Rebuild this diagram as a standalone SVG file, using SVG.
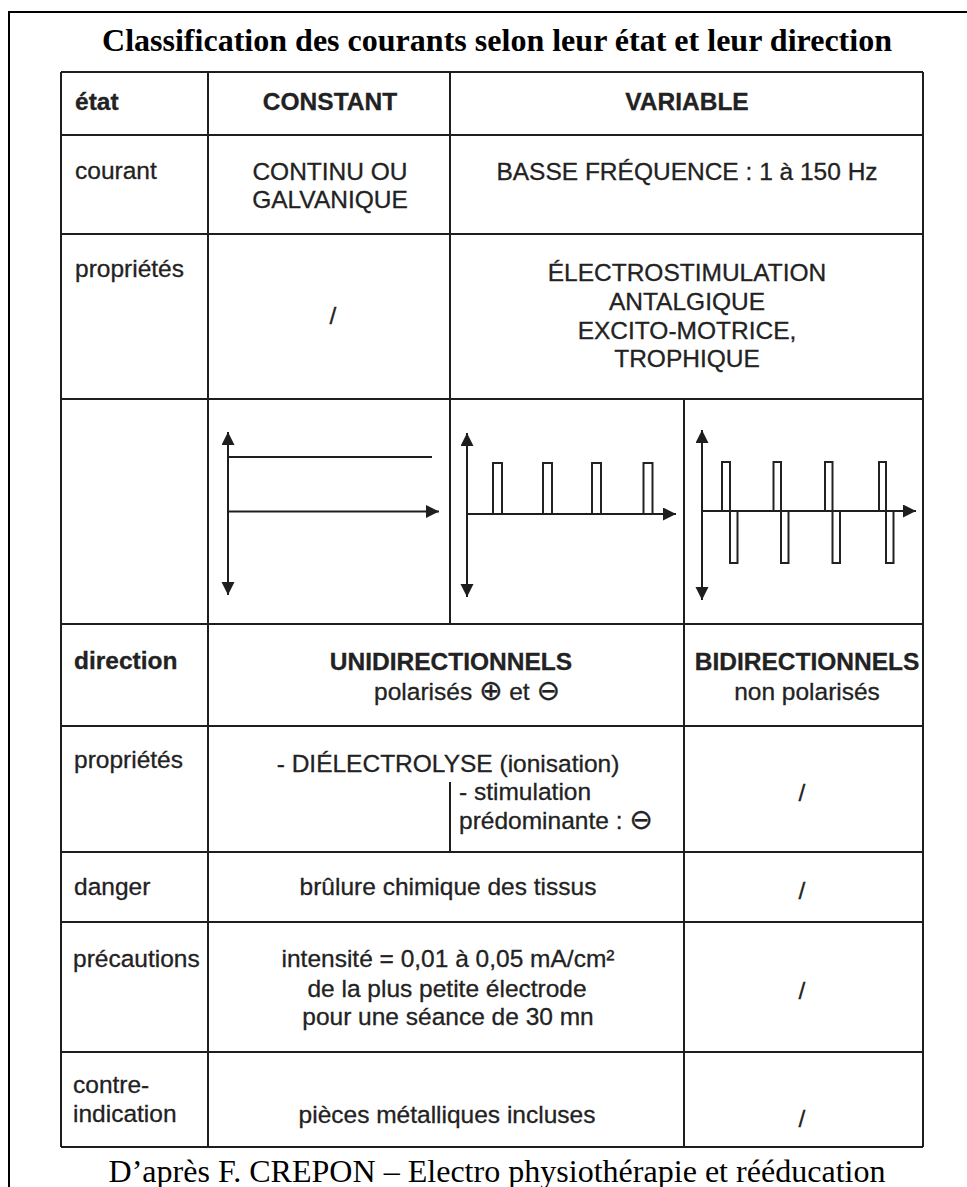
<svg xmlns="http://www.w3.org/2000/svg" width="967" height="1187" viewBox="0 0 967 1187">
<style>
.t { font-family: "Liberation Sans", "DejaVu Sans", sans-serif; font-size: 24.5px; fill: #222; stroke: #222; stroke-width: 0.3px; }
.b { font-weight: bold; }
.c { text-anchor: middle; }
.sym { font-family: "DejaVu Sans", sans-serif; font-size: 28px; }
.serif { font-family: "Liberation Serif", "DejaVu Serif", serif; fill: #000; }
.grid line { stroke: #1e1e1e; stroke-width: 2; }
.ax { stroke: #1e1e1e; stroke-width: 2; fill: none; }
.pulse { stroke: #222; stroke-width: 2; fill: none; }
</style>
<defs>
<marker id="arr" markerUnits="userSpaceOnUse" markerWidth="14" markerHeight="14" refX="13" refY="6.5" orient="auto-start-reverse">
<path d="M0,0 L13,6.5 L0,13 Z" fill="#1e1e1e"/>
</marker>
</defs>
<rect width="967" height="1187" fill="#fff"/>
<rect id="frame" x="9" y="12" width="1000" height="1250" fill="none" stroke="#000" stroke-width="2"/>
<text id="title" class="serif" x="497" y="51" font-size="32" font-weight="bold" text-anchor="middle" textLength="790" lengthAdjust="spacingAndGlyphs">Classification des courants selon leur état et leur direction</text>

<g id="grid" class="grid">
<line x1="61" y1="72" x2="923" y2="72"/>
<line x1="61" y1="135" x2="923" y2="135"/>
<line x1="61" y1="234" x2="923" y2="234"/>
<line x1="61" y1="399" x2="923" y2="399"/>
<line x1="61" y1="624" x2="923" y2="624"/>
<line x1="61" y1="726" x2="923" y2="726"/>
<line x1="61" y1="852" x2="923" y2="852"/>
<line x1="61" y1="922" x2="923" y2="922"/>
<line x1="61" y1="1052" x2="923" y2="1052"/>
<line x1="61" y1="1147" x2="923" y2="1147"/>
<line x1="61" y1="72" x2="61" y2="1147"/>
<line x1="923" y1="72" x2="923" y2="1147"/>
<line x1="208" y1="72" x2="208" y2="1147"/>
<line x1="450" y1="72" x2="450" y2="624"/>
<line x1="684" y1="399" x2="684" y2="1147"/>
<line x1="450" y1="782" x2="450" y2="852"/>
</g>

<g id="row-etat">
<text class="t b" x="75" y="110">état</text>
<text class="t b c" x="330" y="110">CONSTANT</text>
<text class="t b c" x="687" y="110">VARIABLE</text>
</g>

<g id="row-courant">
<text class="t" x="75" y="179">courant</text>
<text class="t c" x="330" y="180">CONTINU OU</text>
<text class="t c" x="330" y="208">GALVANIQUE</text>
<text class="t c" x="687" y="180">BASSE FRÉQUENCE : 1 à 150 Hz</text>
</g>

<g id="row-proprietes-etat">
<text class="t" x="75" y="277">propriétés</text>
<text class="t c" x="333" y="324">/</text>
<text class="t c" x="687" y="281">ÉLECTROSTIMULATION</text>
<text class="t c" x="687" y="310">ANTALGIQUE</text>
<text class="t c" x="687" y="339">EXCITO-MOTRICE,</text>
<text class="t c" x="687" y="367">TROPHIQUE</text>
</g>

<g id="graph-continu">
<line class="ax" x1="228" y1="432" x2="228" y2="595" marker-start="url(#arr)" marker-end="url(#arr)"/>
<line class="ax" x1="228" y1="457" x2="432" y2="457" stroke-width="3"/>
<line class="ax" x1="228" y1="511.5" x2="439" y2="511.5" marker-end="url(#arr)"/>
</g>

<g id="graph-unidirectionnel">
<line class="ax" x1="467" y1="433" x2="467" y2="597" marker-start="url(#arr)" marker-end="url(#arr)"/>
<line class="ax" x1="467" y1="514" x2="676" y2="514" marker-end="url(#arr)"/>
<path class="pulse" d="M493,514 V463 H502 V514 M543,514 V463 H552 V514 M592,514 V463 H601 V514 M643.5,514 V463 H652.5 V514"/>
</g>

<g id="graph-bidirectionnel">
<line class="ax" x1="702" y1="430" x2="702" y2="600" marker-start="url(#arr)" marker-end="url(#arr)"/>
<line class="ax" x1="702" y1="511" x2="916" y2="511" marker-end="url(#arr)"/>
<path class="pulse" d="M722,511 V462 H730 V563 H737.5 V511 M773.5,511 V462 H781 V563 H788.5 V511 M825,511 V462 H832.5 V563 H840 V511 M879,511 V462 H886 V563 H893.5 V511"/>
</g>

<g id="row-direction">
<text class="t b" x="74" y="669">direction</text>
<text class="t b c" x="451" y="670">UNIDIRECTIONNELS</text>
<text class="t c" x="467" y="700">polarisés <tspan class="sym">⊕</tspan> et <tspan class="sym">⊖</tspan></text>
<text class="t b c" x="807" y="670">BIDIRECTIONNELS</text>
<text class="t c" x="807" y="700">non polarisés</text>
</g>

<g id="row-proprietes-direction">
<text class="t" x="74" y="768">propriétés</text>
<text class="t c" x="448" y="772">- DIÉLECTROLYSE (ionisation)</text>
<text class="t" x="459" y="800">- stimulation</text>
<text class="t" x="459" y="829">prédominante : <tspan class="sym">⊖</tspan></text>
<text class="t c" x="802" y="801">/</text>
</g>

<g id="row-danger">
<text class="t" x="74" y="895">danger</text>
<text class="t c" x="448" y="895">brûlure chimique des tissus</text>
<text class="t c" x="802" y="899">/</text>
</g>

<g id="row-precautions">
<text class="t" x="73" y="967">précautions</text>
<text class="t c" x="448" y="967">intensité = 0,01 à 0,05 mA/cm²</text>
<text class="t c" x="447" y="997">de la plus petite électrode</text>
<text class="t c" x="448" y="1025">pour une séance de 30 mn</text>
<text class="t c" x="802" y="999">/</text>
</g>

<g id="row-contre-indication">
<text class="t" x="73" y="1093">contre-</text>
<text class="t" x="73" y="1122">indication</text>
<text class="t c" x="447" y="1123">pièces métalliques incluses</text>
<text class="t c" x="802" y="1127">/</text>
</g>

<text id="caption" class="serif" x="497" y="1182" font-size="32" text-anchor="middle" textLength="777" lengthAdjust="spacingAndGlyphs">D’après F. CREPON – Electro physiothérapie et rééducation</text>
</svg>
